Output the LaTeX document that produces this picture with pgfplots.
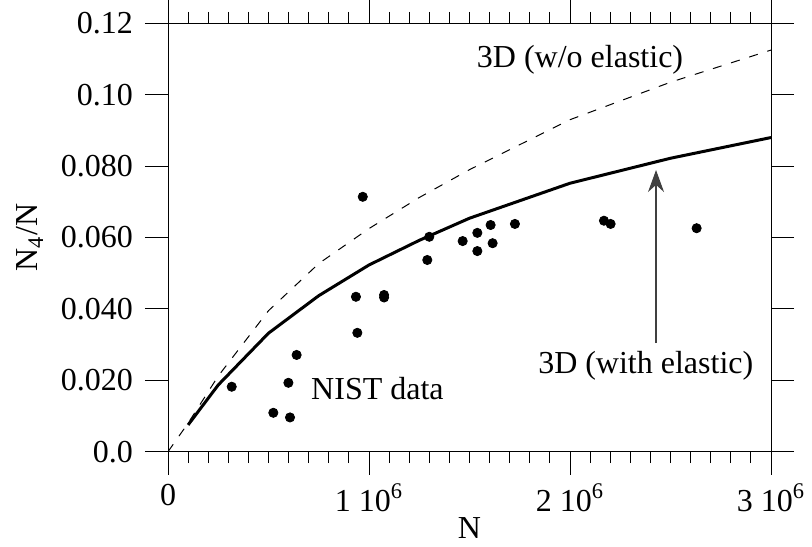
\documentclass[border=0pt]{standalone}
\usepackage{pgfplots}
\pgfplotsset{compat=1.18}
\usetikzlibrary{arrows.meta}
\usepackage{fontspec}
\setmainfont{Liberation Serif}
\begin{document}
\begin{tikzpicture}[font=\fontsize{16}{19}\selectfont]
\begin{axis}[
  scale only axis,
  width=301.5pt, height=214.2pt,
  xmin=0, xmax=3e6, ymin=0, ymax=0.12,
  axis line style={line width=0.5pt},
  tick style={line width=0.5pt, black},
  tick align=outside,
  major tick length=11.5pt,
  minor tick length=5.75pt,
  scaled ticks=false,
  xtick={0,1e6,2e6,3e6},
  xticklabels={0,1 10\textsuperscript{6},2 10\textsuperscript{6},3 10\textsuperscript{6}},
  minor x tick num=9,
  ytick={0,0.02,0.04,0.06,0.08,0.10,0.12},
  yticklabels={0.0,0.020,0.040,0.060,0.080,0.10,0.12},
  minor y tick num=0,
  yticklabel style={xshift=-2.5pt},
  xticklabel style={yshift=-1pt},
  /pgf/number format/assume math mode=true,
  xlabel={N},
  ylabel={N\textsubscript{4}/N},
  every axis x label/.style={at={(axis description cs:0.5,-0.178)},anchor=center},
  every axis y label/.style={at={(axis description cs:-0.229,0.5)},anchor=center,rotate=90},
]
\coordinate (bl) at (rel axis cs:0,0);
\coordinate (tr) at (rel axis cs:1,1);
% 3D without elastic (dashed)
\addplot[black, line width=0.5pt, dash pattern=on 4.5pt off 5pt] coordinates {
(0,0) (1e5,0.0080) (2.5e5,0.0212) (5e5,0.0395) (7.5e5,0.0527) (1e6,0.0625)
(1.25e6,0.0712) (1.5e6,0.0790) (2e6,0.0930) (2.5e6,0.1035) (3e6,0.1125)};
% 3D with elastic (solid)
\addplot[black, line width=1.5pt] coordinates {
(1e5,0.0075) (2.5e5,0.0187) (5e5,0.0332) (7.5e5,0.0437) (1e6,0.0523)
(1.25e6,0.0592) (1.5e6,0.0654) (2e6,0.0752) (2.5e6,0.0822) (3e6,0.0880)};
% NIST data
\addplot[only marks, mark=*, mark size=2.3pt, black] coordinates {
(3.17e5,0.0182) (5.24e5,0.0109) (6.07e5,0.0096) (5.99e5,0.0193) (6.40e5,0.0271)
(9.69e5,0.0714) (9.35e5,0.0434) (9.42e5,0.0333) (1.075e6,0.0439) (1.075e6,0.0432)
(1.30e6,0.0602) (1.29e6,0.0537) (1.466e6,0.0590) (1.539e6,0.0613) (1.539e6,0.0562)
(1.605e6,0.0635) (1.615e6,0.0584) (1.726e6,0.0638) (2.169e6,0.0647) (2.202e6,0.0638)
(2.630e6,0.0626)};
\node at (axis cs:2.05e6,0.1097) {3D (w/o elastic)};
\node at (axis cs:1.042e6,0.0176) {NIST data};
\node at (axis cs:2.377e6,0.0240) {3D (with elastic)};
\draw[-{Stealth[length=11pt,width=8pt]}, line width=0.6pt, black!75] (axis cs:2.428e6,0.0304) -- (axis cs:2.428e6,0.0789);
\end{axis}
\pgfresetboundingbox
\path ([shift={(-84pt,-47.15pt)}]bl) rectangle ([shift={(20.5pt,11.65pt)}]tr);
\end{tikzpicture}
\end{document}
